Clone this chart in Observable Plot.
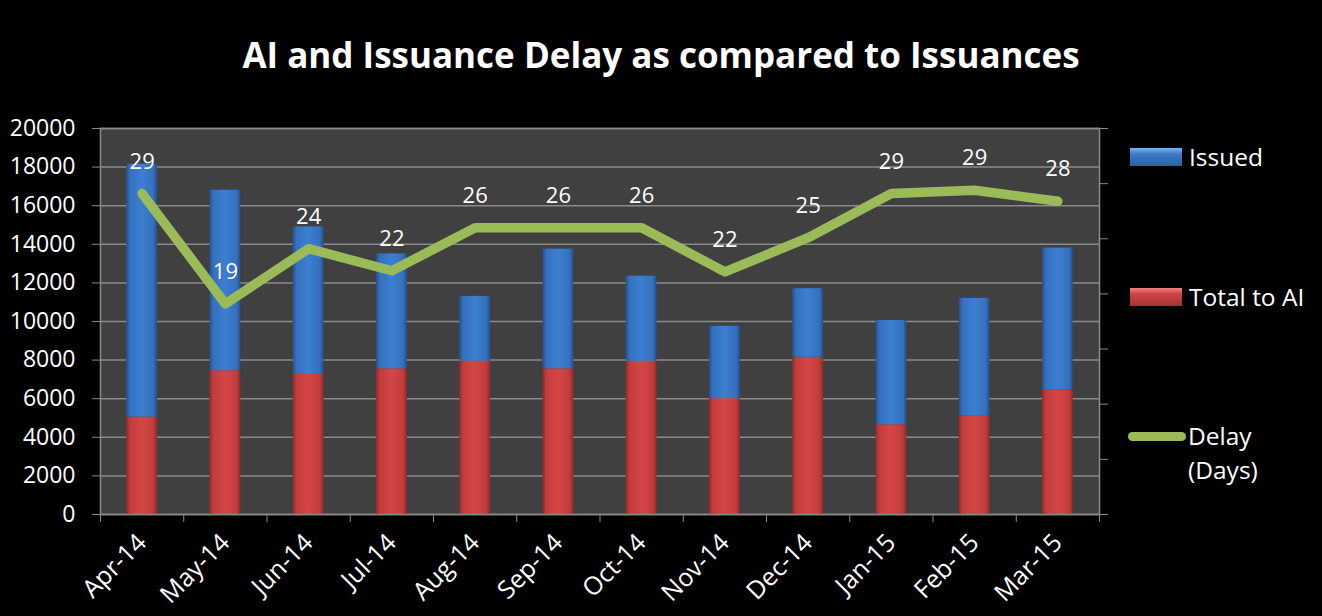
<!DOCTYPE html>
<html><head><meta charset="utf-8">
<script src="https://cdn.jsdelivr.net/npm/d3@7"></script>
<script src="https://cdn.jsdelivr.net/npm/@observablehq/plot@0.6"></script>
<style>
body{margin:0;background:#000;width:1322px;height:616px;overflow:hidden;position:relative;font-family:"Open Sans",sans-serif;color:#fff}
#title{height:100px;box-sizing:border-box;padding-top:29px;line-height:52px;text-align:center;font-weight:700;font-size:35px;white-space:nowrap}
.leg{position:absolute;left:1128px;display:flex;align-items:center;font-size:24.5px;line-height:34px}
.sw{width:52px;height:18px;margin-left:2px;margin-right:7px}
.ln{width:58px;height:9px;border-radius:5px;background:#9bbb59;margin-right:2px}
</style></head><body>
<div id="title">AI and Issuance Delay as compared to Issuances</div>
<div id="chart"></div>
<div class="leg" style="top:140px"><div class="sw" style="background:linear-gradient(#7fb2ec,#3a78c8 35%,#2d62a8)"></div><span>Issued</span></div>
<div class="leg" style="top:280px"><div class="sw" style="background:linear-gradient(#f08080,#d04242 35%,#a83232)"></div><span>Total to AI</span></div>
<div class="leg" style="top:419px;align-items:flex-start"><div class="ln" style="margin-top:13px"></div><span>Delay<br>(Days)</span></div>
<script>
const months = ["Apr-14","May-14","Jun-14","Jul-14","Aug-14","Sep-14","Oct-14","Nov-14","Dec-14","Jan-15","Feb-15","Mar-15"];
const totalToAI = [5050, 7450, 7250, 7550, 7950, 7550, 7950, 6000, 8150, 4650, 5100, 6450];
const issued = [13100, 9350, 7650, 5950, 3350, 6200, 4400, 3750, 3550, 5400, 6100, 7350];
const delayDays = [29.1, 19.1, 24.1, 22.1, 26, 26, 26, 22, 25.1, 29.1, 29.4, 28.4];
const leftTicks = [0,2000,4000,6000,8000,10000,12000,14000,16000,18000,20000];
const rightTicks = [0,5,10,15,20,25,30,35];

const YMAX = 20000, DMAX = 35, k = YMAX / DMAX;
const half = 0.185;
const rows = months.map((m, i) => ({m, c: i + 0.5, ai: totalToAI[i], iss: issued[i], d: delayDays[i]}));
const grid = "#8a8a8a";

const svg = Plot.plot({
  width: 1322, height: 516,
  marginLeft: 100, marginRight: 223, marginTop: 28, marginBottom: 102,
  style: {background: "transparent", color: "#fff", fontFamily: "Open Sans, sans-serif", overflow: "visible"},
  x: {domain: [0, months.length]},
  y: {domain: [0, YMAX]},
  marks: [
    Plot.frame({fill: "#404040"}),
    Plot.gridY({ticks: leftTicks, stroke: grid, strokeOpacity: 1, strokeWidth: 1.5}),
    Plot.rect(rows, {x1: d => d.c - half, x2: d => d.c + half, y1: 0, y2: d => d.ai, fill: "url(#gRed)"}),
    Plot.rect(rows, {x1: d => d.c - half, x2: d => d.c + half, y1: d => d.ai, y2: d => d.ai + d.iss, fill: "url(#gBlue)"}),
    Plot.ruleY(rows, {x1: d => d.c - half, x2: d => d.c + half, y: d => d.ai, dy: 4, strokeWidth: 8, stroke: "url(#bvRed)"}),
    Plot.ruleY(rows, {x1: d => d.c - half, x2: d => d.c + half, y: d => d.ai + d.iss, dy: 4, strokeWidth: 8, stroke: "url(#bvBlue)"}),
    Plot.line(rows, {x: "c", y: d => d.d * k, stroke: "#9bbb59", strokeWidth: 9.5, strokeLinecap: "round", strokeLinejoin: "round"}),
    Plot.text(rows, {x: "c", y: d => d.d * k, text: d => String(Math.round(d.d)), dy: -32, fill: "#fff", fontSize: 22}),
    Plot.frame({stroke: grid, strokeWidth: 1.5}),
    Plot.axisY({ticks: leftTicks, tickSize: 8, tickPadding: 17, fontSize: 23, stroke: grid, fill: "#fff", label: null, tickFormat: d => String(d)}),
    Plot.axisY({anchor: "right", ticks: rightTicks.map(v => v * k), tickSize: 8, tickFormat: () => "", stroke: grid, label: null}),
    Plot.axisX({ticks: d3.range(0, months.length + 1), tickSize: 8, tickFormat: () => "", stroke: grid, label: null}),
    Plot.axisX({ticks: rows.map(d => d.c), tickSize: 0, tickPadding: 24, tickRotate: -45, fontSize: 25, fill: "#fff", tickFormat: v => months[Math.floor(v)], label: null})
  ]
});

const defs = d3.select(svg).insert("defs", ":first-child");
function grad(id, stops) {
  const g = defs.append("linearGradient").attr("id", id).attr("x1", 0).attr("x2", 1).attr("y1", 0).attr("y2", 0);
  stops.forEach(([o, c]) => g.append("stop").attr("offset", o).attr("stop-color", c));
}
grad("gBlue", [[0, "#264f8c"], [0.12, "#3470bd"], [0.5, "#3c7fd2"], [0.88, "#3470bd"], [1, "#264f8c"]]);
grad("gRed", [[0, "#8f2a2a"], [0.12, "#c23c3c"], [0.5, "#d44646"], [0.88, "#c23c3c"], [1, "#8f2a2a"]]);
grad("bvBlue", [[0, "#3f7fce"], [0.25, "#4f93e2"], [0.5, "#78b4f2"], [0.75, "#4f93e2"], [1, "#3f7fce"]]);
grad("bvRed", [[0, "#c84646"], [0.25, "#e05a5a"], [0.5, "#f28a8a"], [0.75, "#e05a5a"], [1, "#c84646"]]);
document.getElementById("chart").appendChild(svg);
</script>
</body></html>
